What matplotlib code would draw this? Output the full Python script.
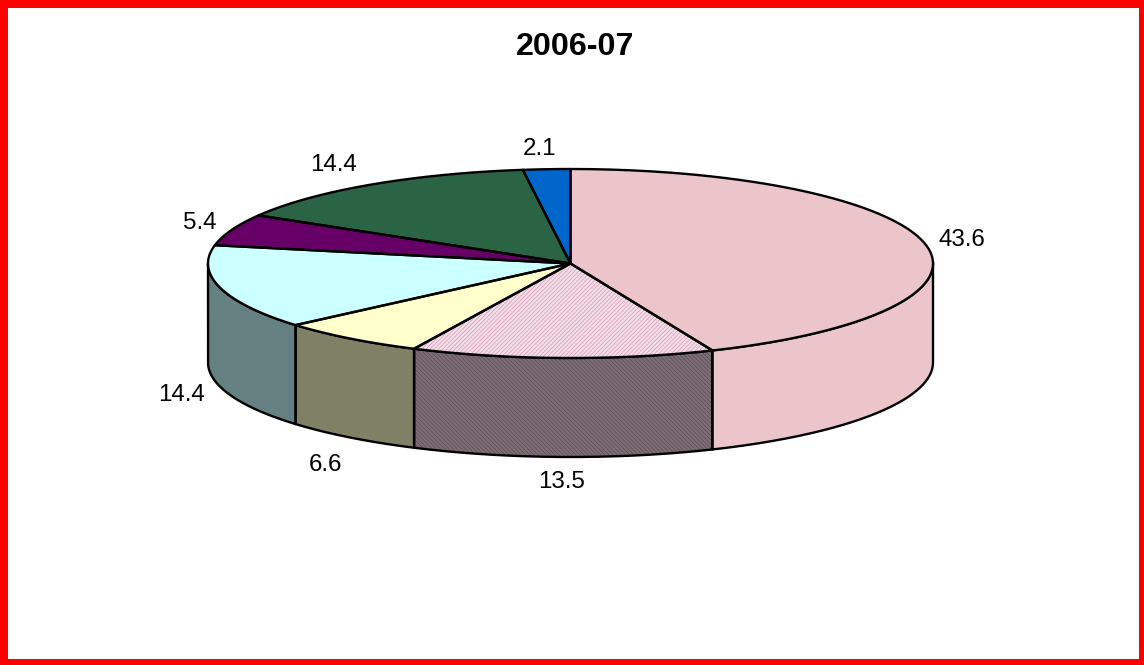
import numpy as np
import matplotlib
matplotlib.use("Agg")
import matplotlib.pyplot as plt
from matplotlib.patches import Rectangle

plt.rcParams['font.family'] = ['Liberation Sans', 'DejaVu Sans']
plt.rcParams['hatch.linewidth'] = 0.4

title = "2006-07"
values = [43.6, 13.5, 6.6, 14.4, 5.4, 14.4, 2.1]
labels = ["43.6", "13.5", "6.6", "14.4", "5.4", "14.4", "2.1"]
top_colors = ["#ebc5c9", "#f4dde8", "#ffffcc", "#ccffff", "#660066", "#2b6444", "#0066cc"]
side_colors = ["#ebc5c9", "#7d6d75", "#808066", "#648080", "#330033", "#163222", "#003366"]
top_hatch = [None, "////////", None, None, None, None, None]
side_hatch = [None, "\\\\\\\\\\\\\\\\", None, None, None, None, None]
hatch_colors = {1: ("#c48fa8", "#55464e")}
label_xy = [(962, 240), (562, 482), (325, 465), (182, 395), (200, 223), (334, 165), (539, 149)]

cx, cy, rx, ry, depth = 570.5, 263.5, 362.5, 94.5, 99
lw = 1.7

fig = plt.figure(figsize=(11.44, 6.65), dpi=100)
ax = fig.add_axes([0, 0, 1, 1])
ax.set_xlim(0, 1144)
ax.set_ylim(665, 0)
ax.axis("off")


def rim(a):
    return cx + rx * np.sin(a), cy - ry * np.cos(a)


edges = np.concatenate([[0], np.cumsum(values)]) / sum(values) * 2 * np.pi
edges[-1] = 2 * np.pi

# side walls (front half only: pi/2 to 3pi/2 clockwise from 12 o'clock)
for i in range(len(values)):
    a0 = max(edges[i], np.pi / 2)
    a1 = min(edges[i + 1], 3 * np.pi / 2)
    if a1 <= a0:
        continue
    t = np.linspace(a0, a1, 150)
    x, y = rim(t)
    px = np.concatenate([x, x[::-1]])
    py = np.concatenate([y, y[::-1] + depth])
    ax.fill(px, py, facecolor=side_colors[i], edgecolor="none", zorder=2)
    if side_hatch[i]:
        ax.fill(px, py, facecolor="none", edgecolor=hatch_colors[i][1],
                hatch=side_hatch[i], linewidth=0, zorder=2.1)
    ax.plot(px.tolist() + [px[0]], py.tolist() + [py[0]], color="black",
            lw=lw, solid_joinstyle="round", zorder=3)

# top wedges
for i in range(len(values)):
    t = np.linspace(edges[i], edges[i + 1], 200)
    x, y = rim(t)
    px = np.concatenate([[cx], x])
    py = np.concatenate([[cy], y])
    ax.fill(px, py, facecolor=top_colors[i], edgecolor="none", zorder=4)
    if top_hatch[i]:
        ax.fill(px, py, facecolor="none", edgecolor=hatch_colors[i][0],
                hatch=top_hatch[i], linewidth=0, zorder=4.1)
    ax.plot(px.tolist() + [cx], py.tolist() + [cy], color="black",
            lw=lw, solid_joinstyle="round", zorder=5)

for lab, (lx, ly) in zip(labels, label_xy):
    ax.text(lx, ly, lab, ha="center", va="center", fontsize=17.4, color="black", zorder=6)

ax.text(575, 47, title, ha="center", va="center", fontsize=23.2, fontweight="bold", color="black", zorder=6)

# outer red frame
for xywh in [(0, 0, 1144, 8), (0, 659, 1144, 6), (0, 0, 8, 665), (1139, 0, 5, 665)]:
    ax.add_patch(Rectangle(xywh[:2], xywh[2], xywh[3], facecolor="#ff0000", edgecolor="none", zorder=7))

fig.savefig("out.png", dpi=100, facecolor="white")
